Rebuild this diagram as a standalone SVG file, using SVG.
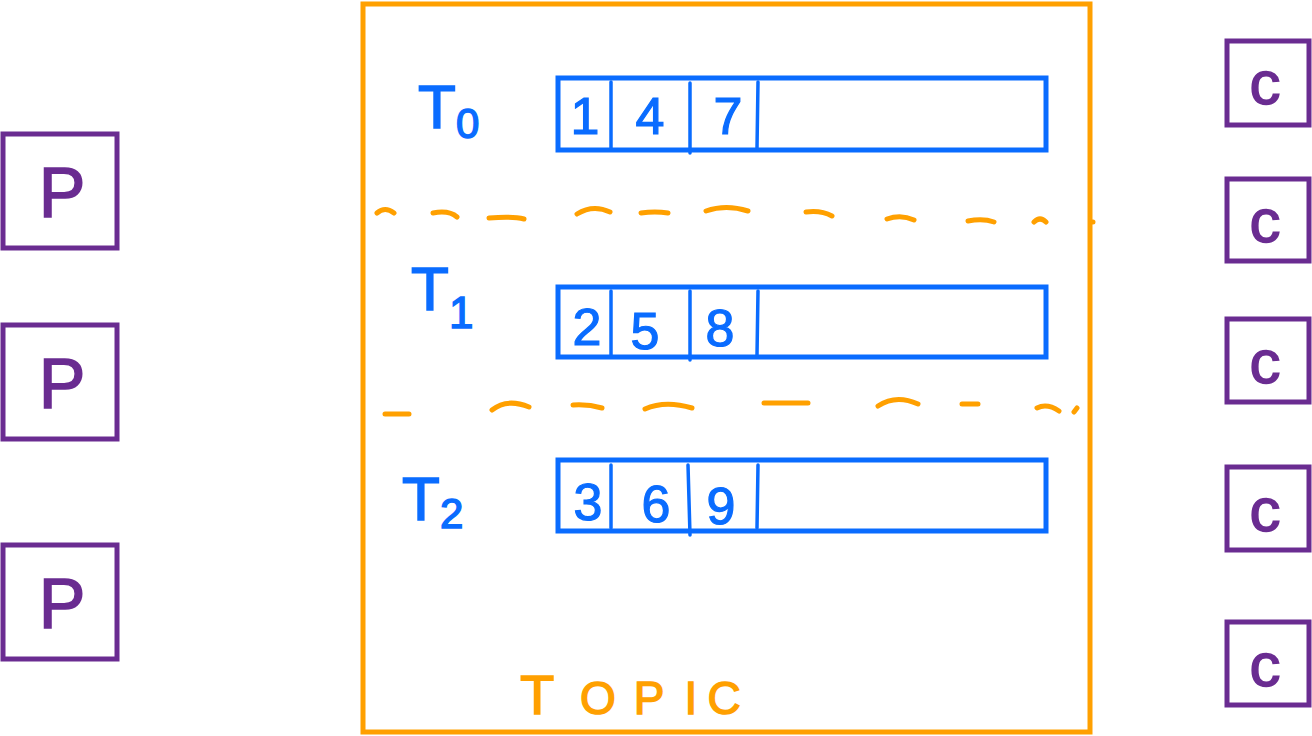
<svg xmlns="http://www.w3.org/2000/svg" width="1312" height="736" viewBox="0 0 1312 736">
<style>
.topic{fill:none;stroke:#ffa000;stroke-width:5}
.dash{fill:none;stroke:#ffa000;stroke-width:5;stroke-linecap:round}
.part{fill:none;stroke:#0a6cff;stroke-width:5}
.div{stroke:#0a6cff;stroke-width:3.5;stroke-linecap:round}
.box{fill:#fff;stroke:#6a2c91;stroke-width:5}
.bt{font-family:"Liberation Sans",Arial,sans-serif;fill:#0a6cff;stroke:#0a6cff;stroke-width:1.5}
.dig{font-family:"Liberation Sans",Arial,sans-serif;font-size:52px;fill:#0a6cff;stroke:#0a6cff;stroke-width:1.2;text-anchor:middle}
.pc{font-family:"Liberation Sans",Arial,sans-serif;fill:#6a2c91;stroke:#6a2c91;stroke-width:1.5;text-anchor:middle}
.tp{font-family:"Liberation Sans",Arial,sans-serif;font-size:46px;fill:#ffa000;stroke:#ffa000;stroke-width:1.5;text-anchor:middle}
</style>
<rect width="1312" height="736" fill="#fff"/>
<g id="topic">
<rect class="topic" x="363" y="4" width="727" height="728"/>
<text class="tp" y="714"><tspan x="537" font-size="56">T</tspan><tspan x="598">O</tspan><tspan x="649">P</tspan><tspan x="691">I</tspan><tspan x="724">C</tspan></text>
</g>
<g id="separators">
<path class="dash" d="M377 213 q8 -7 17 0 M433 213 q16 -3 24 4 M489 218 q24 -2 35 1 M577 214 q16 -10 33 -2 M641 213 q14 -2 27 0 M706 211 q20 -7 42 0 M806 212 q15 -2 26 4 M887 219 q14 -5 27 1 M968 221 q15 -3 26 1 M1034 222 q6 -6 12 0 M1092 222 h1"/>
<path class="dash" d="M385 414 h24 M492 410 q15 -12 37 -3 M573 405 q15 -1 29 3 M645 409 q20 -9 47 -1 M764 403 h44 M878 406 q18 -12 40 -2 M962 404 h16 M1037 408 q10 -5 22 3 M1077 408 l-3 4"/>
</g>
<g id="partition-0">
<text class="bt" x="418" y="128" font-size="62">T<tspan font-size="42" dy="10">0</tspan></text>
<rect class="part" x="558" y="78" width="488" height="72"/>
<line class="div" x1="611" y1="82" x2="611" y2="148"/>
<line class="div" x1="690" y1="83" x2="690" y2="153"/>
<line class="div" x1="758" y1="82" x2="757" y2="148"/>
<text class="dig" x="585" y="134">1</text>
<text class="dig" x="650" y="134">4</text>
<text class="dig" x="728" y="134">7</text>
</g>
<g id="partition-1">
<text class="bt" x="411" y="310" font-size="62">T<tspan font-size="44" dy="18">1</tspan></text>
<rect class="part" x="558" y="287" width="488" height="70"/>
<line class="div" x1="611" y1="291" x2="611" y2="355"/>
<line class="div" x1="690" y1="291" x2="690" y2="360"/>
<line class="div" x1="758" y1="291" x2="757" y2="355"/>
<text class="dig" x="587" y="345">2</text>
<text class="dig" x="645" y="349">5</text>
<text class="dig" x="720" y="346">8</text>
</g>
<g id="partition-2">
<text class="bt" x="402" y="520" font-size="62">T<tspan font-size="42" dy="8">2</tspan></text>
<rect class="part" x="558" y="460" width="488" height="71"/>
<line class="div" x1="611" y1="465" x2="611" y2="528"/>
<line class="div" x1="688" y1="465" x2="690" y2="535"/>
<line class="div" x1="758" y1="465" x2="757" y2="528"/>
<text class="dig" x="588" y="520">3</text>
<text class="dig" x="656" y="522">6</text>
<text class="dig" x="721" y="524">9</text>
</g>
<g id="producer-1"><rect class="box" x="3" y="134" width="114" height="114"/><text class="pc" x="62" y="217" font-size="70">P</text></g>
<g id="producer-2"><rect class="box" x="3" y="325" width="114" height="114"/><text class="pc" x="62" y="408" font-size="70">P</text></g>
<g id="producer-3"><rect class="box" x="3" y="545" width="114" height="114"/><text class="pc" x="62" y="628" font-size="70">P</text></g>
<g id="consumer-1"><rect class="box" x="1227" y="41" width="82" height="84"/><text class="pc" x="1265" y="104" font-size="62">c</text></g>
<g id="consumer-2"><rect class="box" x="1227" y="179" width="82" height="82"/><text class="pc" x="1265" y="242" font-size="62">c</text></g>
<g id="consumer-3"><rect class="box" x="1227" y="319" width="82" height="83"/><text class="pc" x="1265" y="383" font-size="62">c</text></g>
<g id="consumer-4"><rect class="box" x="1227" y="467" width="82" height="83"/><text class="pc" x="1265" y="531" font-size="62">c</text></g>
<g id="consumer-5"><rect class="box" x="1227" y="622" width="82" height="83"/><text class="pc" x="1265" y="686" font-size="62">c</text></g>
</svg>
